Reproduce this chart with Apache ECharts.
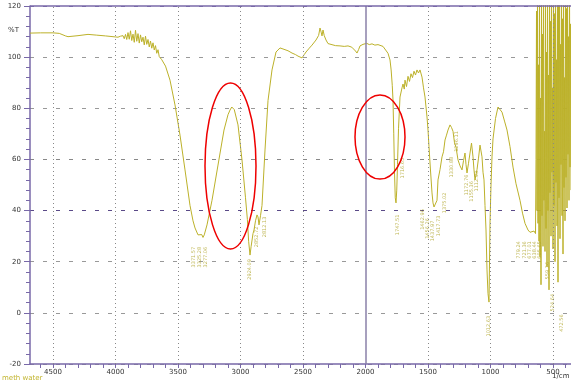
<!DOCTYPE html>
<html>
<head>
<meta charset="utf-8">
<script src="https://cdn.jsdelivr.net/npm/echarts@6/dist/echarts.min.js"></script>
<style>
  html, body { margin: 0; padding: 0; background: #fff; }
  #chart { width: 571px; height: 384px; }
</style>
</head>
<body>
<div id="chart"></div>
<script>
// wavenumbers (1/cm) and transmittance (%T)
const wavenumbers = [
  4684, 4600, 4500, 4450, 4400, 4380, 4300, 4220, 4150, 4080, 4000, 3980, 3960,
  3950, 3940, 3930, 3920, 3910, 3900, 3890, 3880, 3870, 3860, 3850, 3840, 3830, 3820,
  3810, 3800, 3790, 3780, 3770, 3760, 3750, 3740, 3730, 3720, 3710, 3700, 3690, 3680,
  3670, 3660, 3650, 3640, 3630,
  3600, 3564, 3524, 3484, 3444, 3404, 3380, 3364, 3340, 3324, 3310, 3300, 3290, 3268,
  3228, 3180, 3132, 3100, 3084, 3070, 3060, 3050, 3020, 2988, 2960, 2945, 2935, 2924,
  2915, 2900, 2892, 2880, 2868, 2860, 2852, 2840, 2828, 2804, 2780, 2748, 2716, 2684,
  2660, 2644, 2620, 2588, 2560, 2540, 2508, 2490, 2476, 2450, 2428, 2396, 2375, 2364,
  2355, 2348, 2340, 2330, 2316, 2300, 2284, 2240, 2204, 2170, 2140, 2110, 2100, 2080,
  2068, 2055, 2044, 2020, 2004, 1990, 1970, 1948, 1925, 1900, 1884, 1860, 1844, 1820,
  1804, 1795, 1786, 1780, 1774, 1768, 1762, 1756, 1750, 1744, 1736, 1724, 1708, 1700,
  1690, 1684, 1672, 1660, 1648, 1636, 1624, 1612, 1600, 1588, 1576, 1564, 1548, 1536,
  1524, 1508, 1500, 1492, 1484, 1468, 1460, 1452, 1444, 1436, 1428, 1420, 1404, 1388,
  1376, 1364, 1352, 1340, 1324, 1312, 1300, 1288, 1276, 1260, 1244, 1228, 1216, 1204,
  1196, 1188, 1176, 1164, 1152, 1140, 1132, 1124, 1108, 1096, 1084, 1068, 1060, 1052,
  1044, 1036, 1028, 1020, 1012, 1004, 996, 988, 980, 960, 940, 924, 908, 888, 868, 844,
  820, 796, 764, 744, 724, 700, 684, 668, 652, 644,
  640, 636, 632, 628, 624, 620, 616, 612, 608, 604, 600, 596, 592, 588, 584, 580, 576,
  572, 568, 564, 560, 556, 552, 548, 544, 540, 536, 532, 528, 524, 520, 516, 512, 508,
  504, 500, 496, 492, 488, 484, 480, 476, 472, 468, 464, 460, 456, 452, 448, 444, 440,
  436, 432, 428, 424, 420, 416, 412, 408, 404, 400, 396, 392, 388, 384, 380, 376, 372,
  368, 364, 360, 356
];
const transmittance = [
  109.4, 109.5, 109.5, 109.3, 108.3, 108.0, 108.4, 108.9, 108.6, 108.3, 107.9, 107.8, 108.2,
  107.6, 108.4, 107.2, 108.9, 106.9, 109.6, 107.0, 110.3, 106.5, 109.0, 105.8, 110.5, 106.2, 109.2,
  105.5, 108.7, 106.0, 107.8, 104.8, 108.2, 105.0, 106.9, 104.0, 106.3, 103.5, 105.6, 102.8, 104.5,
  101.5, 102.9, 100.2, 100.9, 99.0,
  96.5, 91.0, 81.3, 69.5, 55.9, 42.0, 36.0, 33.2, 30.5, 29.8, 30.6, 29.5, 30.5, 34.4,
  44.0, 57.8, 71.5, 77.5, 79.3, 80.5, 81.0, 79.5, 73.5, 59.8, 45.0, 36.5, 28.0, 22.6,
  26.0, 31.0, 32.4, 36.0, 38.3, 37.5, 34.4, 38.0, 42.0, 63.7, 83.0, 95.0, 102.0, 103.6,
  103.2, 102.8, 102.5, 101.6, 101.0, 100.4, 99.7, 101.0, 102.0, 103.5, 104.7, 106.7, 108.5, 111.4,
  109.8, 108.3, 110.6, 108.4, 106.7, 105.3, 104.7, 104.5, 104.4, 104.2, 104.4, 103.9, 103.6, 102.4,
  101.6, 103.0, 104.4, 105.0, 105.1, 105.4, 104.9, 105.2, 104.7, 104.9, 104.6, 104.2, 103.6, 101.5,
  98.9, 95.0, 89.0, 83.2, 70.0, 55.0, 45.0, 43.0, 48.0, 58.0, 72.0, 84.4, 88.0, 89.5,
  87.5, 91.0, 88.5, 92.5, 90.5, 93.5, 92.0, 94.5, 93.0, 95.0, 93.8, 95.0, 92.2, 88.0,
  84.4, 76.6, 71.5, 65.0, 58.6, 46.9, 43.0, 41.4, 42.0, 41.0, 44.0, 52.0, 56.0, 61.0,
  63.0, 67.6, 69.5, 71.5, 73.5, 72.5, 71.0, 66.5, 64.8, 59.8, 57.5, 55.9, 59.5, 62.5,
  58.0, 54.7, 58.5, 62.5, 66.4, 61.0, 55.9, 52.0, 56.0, 60.5, 65.6, 61.0, 55.0, 52.0,
  42.0, 32.4, 16.8, 7.5, 4.2, 35.0, 50.0, 61.0, 68.0, 76.0, 80.5, 80.3, 78.5, 75.0, 71.5, 65.0,
  57.0, 50.5, 44.0, 39.0, 35.0, 32.4, 31.5, 31.2, 32.0, 31.5,
  31, 60, 118, 40, 126, 35, 97, 28, 130, 22, 84, 11, 124, 38, 109, 26, 135,
  44, 71, 24, 128, 33, 102, 18, 131, 40, 93, 9, 126, 47, 114, 30, 138, 55,
  88, 25, 129, 42, 117, 20, 133, 51, 99, 34, 127, 12, 121, 45, 136, 29, 105,
  58, 131, 38, 115, 23, 128, 49, 92, 36, 134, 53, 119, 41, 126, 62, 108, 44,
  130, 57, 113, 48
];

// peak picks printed vertically under the minima: [wavenumber, %T of label centre, text]
const peakLabels = [
  [3372, 21.8, '3371.57'], [3324, 21.8, '3325.28'], [3276, 21.8, '3277.06'],
  [2924, 17.0, '2924.09'], [2868, 29.7, '2852.72'], [2804, 33.6, '2812.13'],
  [1740, 34.4, '1747.51'], [1700, 56.6, '1716.65'],
  [1540, 36.5, '1462.96'], [1500, 33.0, '1456.26'], [1460, 32.0, '1437.97'],
  [1412, 34.0, '1417.73'], [1364, 43.0, '1375.02'], [1308, 57.0, '1330.88'],
  [1268, 67.0, '1296.11'], [1188, 50.0, '1172.76'], [1148, 47.5, '1155.36'],
  [1108, 51.5, '1112.93'], [1012, -5.2, '1012.63'],
  [772, 24.6, '779.24'], [724, 24.6, '721.36'], [684, 24.6, '677.01'],
  [644, 24.6, '638.44'], [604, 24.6, '605.65'], [540, 16.5, '559.36'],
  [500, 4.0, '524.64'], [428, -4.0, '472.56']
];

// red hand-drawn ellipses: [wn left, wn right, %T top, %T bottom]
const ellipses = [
  [3284, 2876, 89.9, 25.0],
  [2084, 1684, 85.2, 52.3]
];

const majorTicks = [4500, 4000, 3500, 3000, 2500, 2000, 1500, 1000, 500];
const minorTicks = [];
for (let v = 400; v <= 4600; v += 100) minorTicks.push(v);

const axisColor = '#7868a8';
const lineColor = '#bcb12a';

const chart = echarts.init(document.getElementById('chart'));

const spectrum = wavenumbers.map((w, i) => [w, transmittance[i]]);

const textItems = [
  { type: 'text', left: 8, top: 27, style: { text: '%T', fontSize: 7, fill: '#333', fontFamily: 'DejaVu Sans' } },
  { type: 'text', left: 552, top: 373, style: { text: '1/cm', fontSize: 7, fill: '#333', fontFamily: 'DejaVu Sans' } },
  { type: 'text', left: 2, top: 375, style: { text: 'meth water', fontSize: 7, fill: '#c2b530', fontFamily: 'DejaVu Sans' } }
];

chart.setOption({
  animation: false,
  backgroundColor: '#fff',
  grid: { left: 30, right: 0, top: 6, bottom: 20 },
  xAxis: {
    type: 'value',
    inverse: true,
    min: 356,
    max: 4684,
    axisLine: { show: true, onZero: false, lineStyle: { color: axisColor, width: 1.5 } },
    axisTick: { show: true, customValues: minorTicks, length: 4, lineStyle: { color: axisColor } },
    axisLabel: {
      customValues: majorTicks,
      formatter: v => String(v),
      color: '#333',
      fontSize: 7,
      fontFamily: 'DejaVu Sans',
      margin: 5
    },
    splitLine: { show: false }
  },
  yAxis: {
    type: 'value',
    min: -20,
    max: 120,
    interval: 20,
    axisLine: { show: true, lineStyle: { color: axisColor, width: 1.5 } },
    axisTick: { show: true, length: 6, lineStyle: { color: axisColor } },
    minorTick: { show: true, splitNumber: 5, length: 4, lineStyle: { color: axisColor } },
    axisLabel: { color: '#333', fontSize: 7, fontFamily: 'DejaVu Sans', margin: 9 },
    splitLine: {
      show: true,
      lineStyle: {
        color: ['#999', '#999', '#999', '#5a4a88', '#888', '#999', '#999', axisColor],
        type: [4, 9],
        width: 1
      }
    }
  },
  series: [
    {
      type: 'line',
      data: spectrum,
      showSymbol: false,
      symbol: 'none',
      lineStyle: { color: lineColor, width: 1 },
      z: 3,
      markLine: {
        silent: true,
        symbol: 'none',
        label: { show: false },
        data: [
          ...majorTicks.filter(v => v !== 2000).map(v => ({
            xAxis: v, lineStyle: { color: '#888', type: [1, 3], width: 1 }
          })),
          { xAxis: 2000, lineStyle: { color: '#8a80a8', type: 'solid', width: 1.5 } },
          { yAxis: 120, lineStyle: { color: axisColor, type: 'solid', width: 1.5 } }
        ]
      }
    },
    {
      type: 'scatter',
      data: peakLabels,
      symbolSize: 0,
      silent: true,
      z: 4,
      label: {
        show: true,
        position: 'inside',
        rotate: 90,
        fontSize: 5,
        fontFamily: 'DejaVu Sans',
        color: '#b0a52a',
        formatter: p => p.data[2]
      }
    }
  ],
  graphic: textItems
});

// ellipses positioned through the axes
const ellipseGraphics = ellipses.map(e => {
  const p1 = chart.convertToPixel({ gridIndex: 0 }, [e[0], e[2]]);
  const p2 = chart.convertToPixel({ gridIndex: 0 }, [e[1], e[3]]);
  return {
    type: 'ellipse',
    shape: {
      cx: (p1[0] + p2[0]) / 2,
      cy: (p1[1] + p2[1]) / 2,
      rx: Math.abs(p2[0] - p1[0]) / 2,
      ry: Math.abs(p2[1] - p1[1]) / 2
    },
    style: { fill: 'none', stroke: '#ee0000', lineWidth: 1.5 },
    z: 10
  };
});
chart.setOption({ graphic: [...textItems, ...ellipseGraphics] }, { replaceMerge: ['graphic'] });
</script>
</body>
</html>
